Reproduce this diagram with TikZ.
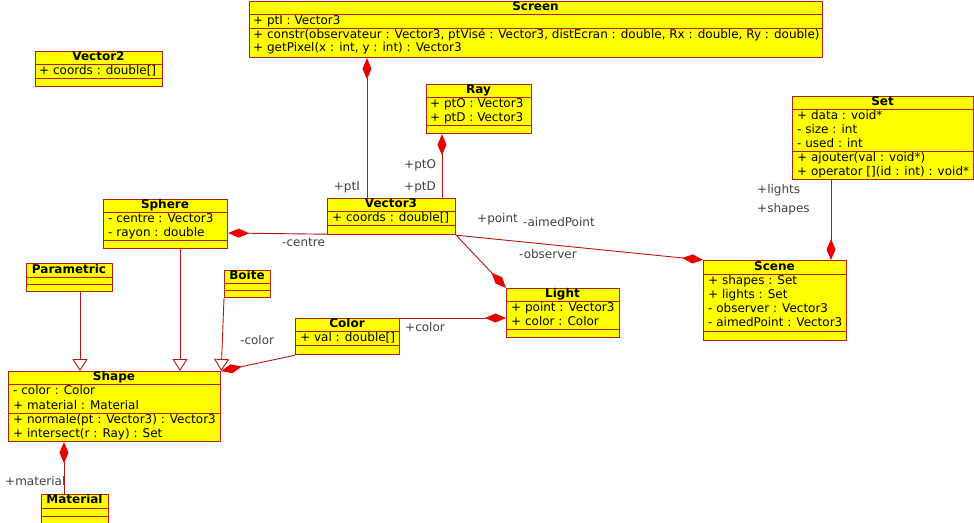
\documentclass[tikz,border=0pt]{standalone}
\usepackage{fontspec}
\setmainfont{DejaVu Sans}
\usetikzlibrary{arrows.meta}
\definecolor{umlfill}{RGB}{255,255,0}
\definecolor{umlborder}{RGB}{178,30,30}
\definecolor{linecol}{RGB}{185,20,20}
\definecolor{diamcol}{RGB}{235,0,0}
\definecolor{labelgray}{RGB}{64,64,64}
\begin{document}
\begin{tikzpicture}[x=1pt,y=-1pt,
  every node/.style={font=\fontsize{12}{14}\selectfont},
  clsbox/.style={draw=umlborder, fill=umlfill, line width=1.2pt, inner sep=0pt},
  sepline/.style={draw=umlborder, line width=1pt},
  ttl/.style={font=\fontsize{12}{14}\selectfont\bfseries, inner sep=0pt, text height=9pt, text depth=2.5pt},
  attr/.style={anchor=west, inner sep=0pt, text height=9pt, text depth=2.5pt},
  lbl/.style={text=labelgray, inner sep=0pt, text height=9pt, text depth=2.5pt},
  compo/.style={draw=linecol, line width=0.9pt, {Diamond[length=21pt,width=9pt,color=diamcol,fill=diamcol]}-},
  gener/.style={draw=linecol, line width=0.9pt, -{Triangle[open,length=12pt,width=15pt,color=linecol,fill=white]}}]
\useasboundingbox (0,0) rectangle (974,522);

% ---------- Screen ----------
\node[clsbox, minimum width=573pt, minimum height=56pt, anchor=north west] (scr) at (249,1) {};
\node[ttl] (scr-t) at (535.5,7.5) {Screen};
\draw[sepline] (249,14) -- (822,14);
\node[attr] (scr-a1) at (253,21) {+ ptI : Vector3};
\draw[sepline] (249,28) -- (822,28);
\node[attr] (scr-o1) at (253,35) {+ constr(observateur : Vector3, ptVisé : Vector3, distEcran : double, Rx : double, Ry : double)};
\node[attr] (scr-o2) at (253,48) {+ getPixel(x : int, y : int) : Vector3};

% ---------- Vector2 ----------
\node[clsbox, minimum width=127pt, minimum height=35pt, anchor=north west] (v2) at (35,51) {};
\node[ttl] (v2-t) at (98.5,57.5) {Vector2};
\draw[sepline] (35,64) -- (162,64);
\node[attr] (v2-a1) at (39,71) {+ coords : double[]};
\draw[sepline] (35,78) -- (162,78);

% ---------- Ray ----------
\node[clsbox, minimum width=105pt, minimum height=49pt, anchor=north west] (ray) at (426,84) {};
\node[ttl] (ray-t) at (478.5,90.5) {Ray};
\draw[sepline] (426,97) -- (531,97);
\node[attr] (ray-a1) at (430,104) {+ ptO : Vector3};
\node[attr] (ray-a2) at (430,118) {+ ptD : Vector3};
\draw[sepline] (426,125) -- (531,125);

% ---------- Set ----------
\node[clsbox, minimum width=181pt, minimum height=83pt, anchor=north west] (set) at (792,96) {};
\node[ttl] (set-t) at (882.5,102.5) {Set};
\draw[sepline] (792,109) -- (973,109);
\node[attr] (set-a1) at (797,116) {+ data : void*};
\node[attr] (set-a2) at (797,130) {- size : int};
\node[attr] (set-a3) at (797,144) {- used : int};
\draw[sepline] (792,151) -- (973,151);
\node[attr] (set-o1) at (797,158) {+ ajouter(val : void*)};
\node[attr] (set-o2) at (797,172) {+ operator [](id : int) : void*};

% ---------- Vector3 ----------
\node[clsbox, minimum width=128pt, minimum height=36pt, anchor=north west] (v3) at (327,198) {};
\node[ttl] (v3-t) at (391,204.5) {Vector3};
\draw[sepline] (327,211) -- (455,211);
\node[attr] (v3-a1) at (332,218) {+ coords : double[]};
\draw[sepline] (327,225.5) -- (455,225.5);

% ---------- Sphere ----------
\node[clsbox, minimum width=124pt, minimum height=49pt, anchor=north west] (sph) at (103,199) {};
\node[ttl] (sph-t) at (165,205.5) {Sphere};
\draw[sepline] (103,212) -- (227,212);
\node[attr] (sph-a1) at (108,219) {- centre : Vector3};
\node[attr] (sph-a2) at (108,233) {- rayon : double};
\draw[sepline] (103,240) -- (227,240);

% ---------- Parametric ----------
\node[clsbox, minimum width=86pt, minimum height=28pt, anchor=north west] (par) at (26,263) {};
\node[ttl] (par-t) at (69,270) {Parametric};
\draw[sepline] (26,277) -- (112,277);
\draw[sepline] (26,284) -- (112,284);

% ---------- Boite ----------
\node[clsbox, minimum width=46pt, minimum height=27pt, anchor=north west] (boi) at (224,270) {};
\node[ttl] (boi-t) at (247,276.5) {Boite};
\draw[sepline] (224,283) -- (270,283);
\draw[sepline] (224,290) -- (270,290);

% ---------- Color ----------
\node[clsbox, minimum width=104pt, minimum height=36pt, anchor=north west] (col) at (295,318) {};
\node[ttl] (col-t) at (347,324.5) {Color};
\draw[sepline] (295,331) -- (399,331);
\node[attr] (col-a1) at (300,338) {+ val : double[]};
\draw[sepline] (295,345.5) -- (399,345.5);

% ---------- Light ----------
\node[clsbox, minimum width=113pt, minimum height=49pt, anchor=north west] (lig) at (506,288) {};
\node[ttl] (lig-t) at (562.5,294.5) {Light};
\draw[sepline] (506,301) -- (619,301);
\node[attr] (lig-a1) at (511,308) {+ point : Vector3};
\node[attr] (lig-a2) at (511,322) {+ color : Color};
\draw[sepline] (506,329) -- (619,329);

% ---------- Scene ----------
\node[clsbox, minimum width=143pt, minimum height=80pt, anchor=north west] (sce) at (703,260) {};
\node[ttl] (sce-t) at (774.5,267) {Scene};
\draw[sepline] (703,274) -- (846,274);
\node[attr] (sce-a1) at (708,281) {+ shapes : Set};
\node[attr] (sce-a2) at (708,295) {+ lights : Set};
\node[attr] (sce-a3) at (708,309) {- observer : Vector3};
\node[attr] (sce-a4) at (708,323) {- aimedPoint : Vector3};
\draw[sepline] (703,331) -- (846,331);

% ---------- Shape ----------
\node[clsbox, minimum width=212pt, minimum height=70pt, anchor=north west] (shp) at (8,371) {};
\node[ttl] (shp-t) at (114,377.5) {Shape};
\draw[sepline] (8,384) -- (220,384);
\node[attr] (shp-a1) at (13,391) {- color : Color};
\node[attr] (shp-a2) at (13,406) {+ material : Material};
\draw[sepline] (8,413) -- (220,413);
\node[attr] (shp-o1) at (13,420) {+ normale(pt : Vector3) : Vector3};
\node[attr] (shp-o2) at (13,434) {+ intersect(r : Ray) : Set};

% ---------- Material ----------
\node[clsbox, minimum width=67pt, minimum height=36pt, anchor=north west] (mat) at (41,494) {};
\node[ttl] (mat-t) at (74.5,500.5) {Material};
\draw[sepline] (41,508) -- (108,508);
\draw[sepline] (41,516) -- (108,516);

% ---------- compositions ----------
\draw[compo] ([xshift=118pt]scr.south west) -- ([xshift=40pt]v3.north west);
\draw[compo] ([xshift=16pt]ray.south west) -- ([xshift=115pt]v3.north west);
\draw[compo] ([yshift=-34pt]sph.north east) -- ([yshift=1pt]v3.south west);
\draw[compo] (lig.north west) -- (v3.south east);
\draw[compo] (sce.north west) -- (v3.south east);
\draw[compo] ([xshift=128pt]sce.north west) -- ([xshift=39pt]set.south west);
\draw[compo] ([yshift=-30pt]lig.north west) -- (col.north east);
\draw[compo] (shp.north east) -- (col.south west);
\draw[compo] ([xshift=56pt]shp.south west) -- ([xshift=23pt]mat.north west);

% ---------- generalisations ----------
\draw[gener] ([xshift=54pt]par.south west) -- ([xshift=72pt]shp.north west);
\draw[gener] ([xshift=77pt]sph.south west) -- ([xshift=172pt]shp.north west);
\draw[gener] (boi.south west) -- (shp.north east);

% ---------- role names ----------
\node[lbl, anchor=east] (l-pti) at (360,187) {+ptI};
\node[lbl, anchor=west] (l-pto) at (404,165) {+ptO};
\node[lbl, anchor=west] (l-ptd) at (404,187) {+ptD};
\node[lbl, anchor=west] (l-point) at (477,219) {+point};
\node[lbl, anchor=west] (l-aimed) at (523,223) {-aimedPoint};
\node[lbl, anchor=west] (l-obs) at (519,255) {-observer};
\node[lbl, anchor=west] (l-centre) at (282,243) {-centre};
\node[lbl, anchor=west] (l-lights) at (757,190) {+lights};
\node[lbl, anchor=west] (l-shapes) at (757,209) {+shapes};
\node[lbl, anchor=west] (l-color1) at (405,328) {+color};
\node[lbl, anchor=west] (l-color2) at (240,341) {-color};
\node[lbl, anchor=west] (l-mat) at (5,482) {+material};
\end{tikzpicture}
\end{document}
